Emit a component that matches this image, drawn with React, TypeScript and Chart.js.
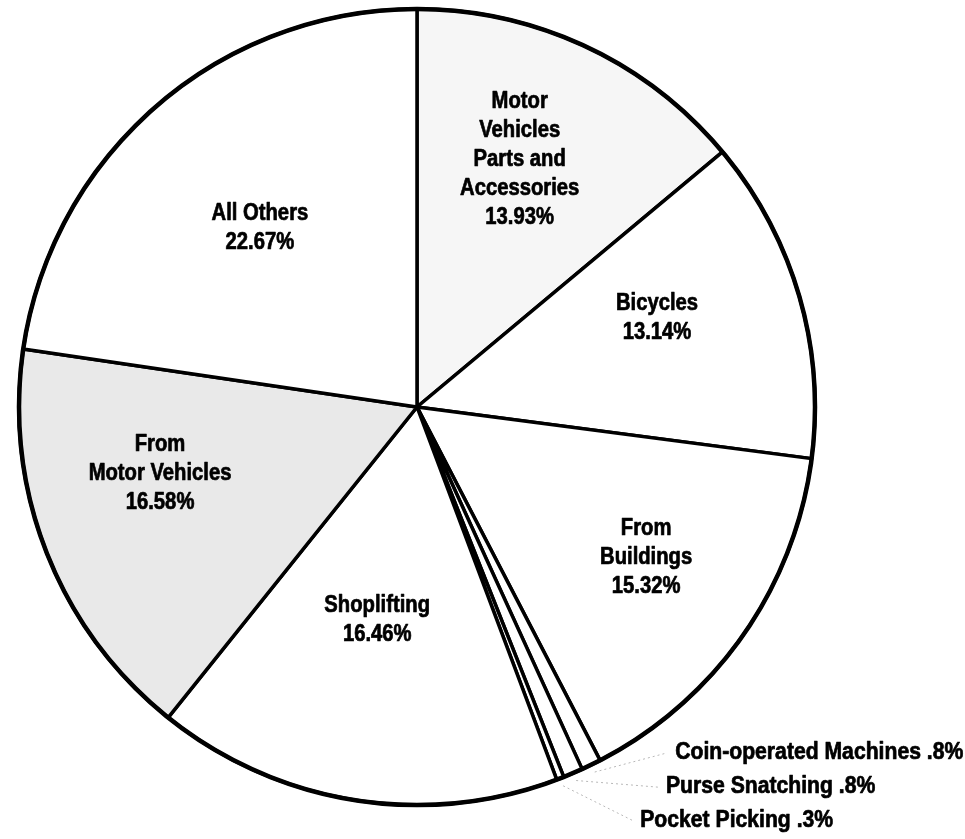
import React, { useEffect, useRef } from "react";
import { Chart, registerables } from "chart.js";

Chart.register(...registerables);

// ---- data ----
const categories = [
  "Motor Vehicles Parts and Accessories",
  "Bicycles",
  "From Buildings",
  "Coin-operated Machines",
  "Purse Snatching",
  "Pocket Picking",
  "Shoplifting",
  "From Motor Vehicles",
  "All Others",
];
const shares = [13.93, 13.14, 15.32, 0.8, 0.8, 0.3, 16.46, 16.58, 22.67];
const labelLines = [
  ["Motor", "Vehicles", "Parts and", "Accessories", "13.93%"],
  ["Bicycles", "13.14%"],
  ["From", "Buildings", "15.32%"],
  ["Coin-operated Machines .8%"],
  ["Purse Snatching .8%"],
  ["Pocket Picking .3%"],
  ["Shoplifting", "16.46%"],
  ["From", "Motor Vehicles", "16.58%"],
  ["All Others", "22.67%"],
];

// ---- styling ----
const sliceColors = ["#f6f6f6", "#ffffff", "#ffffff", "#ffffff", "#ffffff", "#ffffff", "#ffffff", "#e9e9e9", "#ffffff"];
// inside labels: [angle offset (deg, clockwise) from slice middle, fraction of radius]
const insidePlacement: Record<number, [number, number]> = {
  0: [-2.5, 0.672],
  1: [-4.1, 0.643],
  2: [-1.7, 0.689],
  6: [1.5, 0.545],
  7: [6.9, 0.667],
  8: [-0.5, 0.598],
};
// outside labels: text start offset from the slice's outer mid point
const outsidePlacement: Record<number, [number, number]> = {
  3: [84, -12],
  4: [93, 14],
  5: [80, 42],
};
const FONT = 'bold 23px "Liberation Sans", Arial, sans-serif';
const X_SCALE_IN = 0.88; // condensed look
const X_SCALE_OUT = 0.92;
const LINE_H = 29;

function drawText(ctx: CanvasRenderingContext2D, t: string, x: number, y: number, sx: number) {
  ctx.save();
  ctx.translate(x, y);
  ctx.scale(sx, 1);
  ctx.strokeText(t, 0, 0);
  ctx.fillText(t, 0, 0);
  ctx.restore();
}

const labelPlugin = {
  id: "pieLabels",
  afterDatasetsDraw(chart: any) {
    const ctx = chart.ctx as CanvasRenderingContext2D;
    const meta = chart.getDatasetMeta(0);
    if (!meta.data.length) return;
    const first = meta.data[0];
    const cx = first.x;
    const cy = first.y;
    const R = first.outerRadius;

    // heavier outer rim
    ctx.save();
    ctx.beginPath();
    ctx.arc(cx, cy, R, 0, Math.PI * 2);
    ctx.lineWidth = 4.5;
    ctx.strokeStyle = "#000";
    ctx.stroke();
    ctx.restore();

    ctx.save();
    ctx.font = FONT;
    ctx.fillStyle = "#000";
    ctx.strokeStyle = "#000";
    ctx.lineWidth = 0.7;
    ctx.lineJoin = "round";
    ctx.textBaseline = "middle";
    meta.data.forEach((arc: any, i: number) => {
      const mid = (arc.startAngle + arc.endAngle) / 2;
      const lines = labelLines[i];
      if (insidePlacement[i]) {
        const [offDeg, frac] = insidePlacement[i];
        const a = mid + (offDeg * Math.PI) / 180;
        const px = cx + Math.cos(a) * R * frac;
        const py = cy + Math.sin(a) * R * frac;
        ctx.textAlign = "center";
        const top = py - ((lines.length - 1) * LINE_H) / 2;
        lines.forEach((t, k) => drawText(ctx, t, px, top + k * LINE_H, X_SCALE_IN));
      } else if (outsidePlacement[i]) {
        const [dx, dy] = outsidePlacement[i];
        const ax = cx + Math.cos(mid) * R;
        const ay = cy + Math.sin(mid) * R;
        const tx = ax + dx;
        const ty = ay + dy;
        // faint dotted leader
        ctx.save();
        ctx.strokeStyle = "#b8b8b8";
        ctx.lineWidth = 1;
        ctx.setLineDash([2, 3]);
        ctx.beginPath();
        ctx.moveTo(cx + Math.cos(mid) * (R + 8), cy + Math.sin(mid) * (R + 8));
        ctx.lineTo(tx - 8, ty);
        ctx.stroke();
        ctx.restore();
        ctx.textAlign = "left";
        drawText(ctx, lines[0], tx, ty, X_SCALE_OUT);
      }
    });
    ctx.restore();
  },
};

export default function App() {
  const ref = useRef<HTMLCanvasElement>(null);
  useEffect(() => {
    if (!ref.current) return;
    const chart = new Chart(ref.current, {
      type: "pie",
      data: {
        labels: categories,
        datasets: [
          {
            data: shares,
            backgroundColor: sliceColors,
            borderColor: "#000",
            borderWidth: 3.5,
          },
        ],
      },
      options: {
        responsive: false,
        animation: false,
        devicePixelRatio: 1,
        radius: 398,
        layout: { padding: { left: 0, top: 0, right: 131, bottom: 25 } },
        plugins: {
          legend: { display: false },
          tooltip: { enabled: false },
        },
      },
      plugins: [labelPlugin],
    });
    return () => chart.destroy();
  }, []);
  return (
    <div style={{ position: "absolute", left: 0, top: 0, width: 965, height: 839, background: "#fff" }}>
      <canvas ref={ref} width={965} height={839} style={{ display: "block" }} />
    </div>
  );
}
